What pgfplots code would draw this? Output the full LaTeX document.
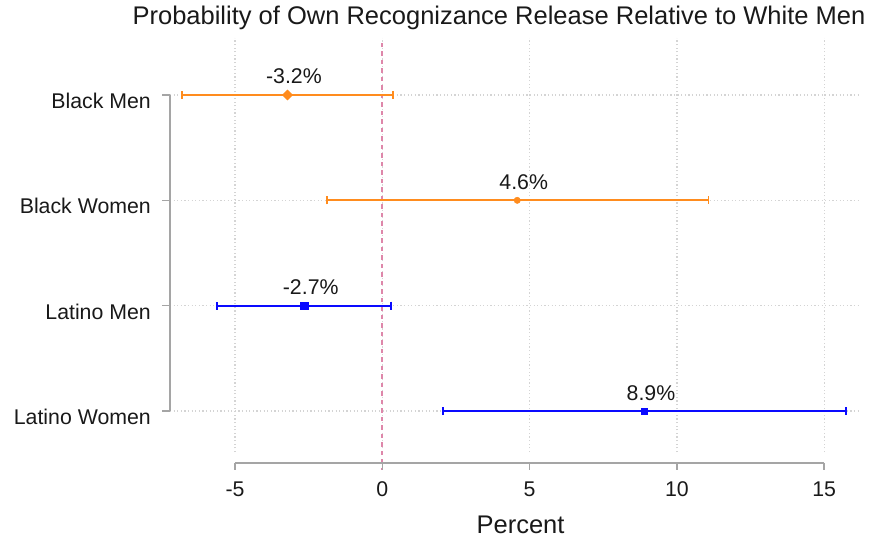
\documentclass[border=0pt]{standalone}
\usepackage{fontspec}
\setmainfont{Liberation Sans}
\usepackage{pgfplots}
\pgfplotsset{compat=1.18}
\definecolor{sorange}{RGB}{255,140,30}
\definecolor{sblue}{RGB}{10,10,255}
\definecolor{zeroline}{RGB}{222,135,170}
\definecolor{gridc}{RGB}{212,212,212}
\definecolor{spine}{RGB}{165,165,165}
\definecolor{txt}{RGB}{25,25,25}
\newcommand{\tickfont}{\fontsize{21.3bp}{25bp}\selectfont}
\newcommand{\bigfont}{\fontsize{25.5bp}{30bp}\selectfont}
\pgfplotsset{
  errstyle/.style={
    error bars/error bar style={line width=1.8bp, #1},
    error bars/error mark options={line width=1.8bp, #1, mark size=4bp, rotate=90}},
}
\begin{document}
\begin{tikzpicture}
\begin{axis}[
  name=ax,
  scale only axis,
  width=690bp, height=414bp,
  xmin=-7.206, xmax=16.215,
  ymin=0.611, ymax=4.541,
  clip=false,
  axis line style={draw=none},
  major tick length=0pt,
  xtick={-5,0,5,10,15},
  ytick={1,2,3,4},
  yticklabels={Latino Women,Latino Men,Black Women,Black Men},
  xmajorgrids, ymajorgrids,
  major grid style={gridc, line width=1.2bp, dash pattern=on 1.2bp off 2.4bp},
  /pgf/number format/assume math mode=true,
  ticklabel style={font=\tickfont, text=txt, inner sep=0pt},
  xticklabel style={anchor=base, yshift=-44.7bp},
  yticklabel style={anchor=base east, xshift=-19bp, yshift=-13.5bp},
  title={Probability of Own Recognizance Release Relative to White Men},
  title style={at={(axis description cs:0.4768,1.0193)}, anchor=base, font=\bigfont, text=txt, inner sep=0pt},
  xlabel={Percent},
  xlabel style={at={(axis description cs:0.508,-0.1964)}, anchor=base, font=\bigfont, text=txt, inner sep=0pt},
  nodes near coords,
  point meta=explicit symbolic,
  every node near coord/.append style={anchor=base, inner sep=0pt, xshift=6.5bp, yshift=11bp, font=\tickfont, text=txt},
  error bars/x dir=both,
  error bars/x explicit,
]
% zero reference line
\draw[zeroline, line width=1.8bp, dash pattern=on 4.5bp off 4bp] (axis cs:0,4.494) -- (axis cs:0,0.440);
% range-frame axes
\draw[spine, line width=1.5bp] (axis cs:-5,0.5066) -- (axis cs:15,0.5066);
\draw[spine, line width=1.5bp] (axis cs:-5,0.5066) -- (axis cs:-5,0.4354);
\draw[spine, line width=1.5bp] (axis cs:0,0.5066) -- (axis cs:0,0.4354);
\draw[spine, line width=1.5bp] (axis cs:5,0.5066) -- (axis cs:5,0.4354);
\draw[spine, line width=1.5bp] (axis cs:10,0.5066) -- (axis cs:10,0.4354);
\draw[spine, line width=1.5bp] (axis cs:15,0.5066) -- (axis cs:15,0.4354);
\draw[spine, line width=1.5bp] (axis cs:-7.206,1) -- (axis cs:-7.206,4);
\draw[spine, line width=1.5bp] (axis cs:-7.206,1) -- (axis cs:-7.478,1);
\draw[spine, line width=1.5bp] (axis cs:-7.206,2) -- (axis cs:-7.478,2);
\draw[spine, line width=1.5bp] (axis cs:-7.206,3) -- (axis cs:-7.478,3);
\draw[spine, line width=1.5bp] (axis cs:-7.206,4) -- (axis cs:-7.478,4);
% Black Men
\addplot[only marks, sorange, mark=square*, mark size=3.6bp, mark options={rotate=45}, errstyle=sorange]
  table[x=x, y=y, x error minus=em, x error plus=ep, meta=lab, row sep=\\] {
  x y em ep lab \\
  -3.22 4 3.57 3.57 -3.2\% \\
};
% Black Women
\addplot[only marks, sorange, mark=*, mark size=3.2bp, errstyle=sorange]
  table[x=x, y=y, x error minus=em, x error plus=ep, meta=lab, row sep=\\] {
  x y em ep lab \\
  4.58 3 6.46 6.49 4.6\% \\
};
% Latino Men
\addplot[only marks, sblue, mark=square*, mark size=3.8bp, errstyle=sblue]
  table[x=x, y=y, x error minus=em, x error plus=ep, meta=lab, row sep=\\] {
  x y em ep lab \\
  -2.65 2 2.97 2.95 -2.7\% \\
};
% Latino Women
\addplot[only marks, sblue, mark=square*, mark size=3bp, errstyle=sblue]
  table[x=x, y=y, x error minus=em, x error plus=ep, meta=lab, row sep=\\] {
  x y em ep lab \\
  8.90 1 6.84 6.84 8.9\% \\
};
\end{axis}
\pgfresetboundingbox
\path[use as bounding box] ([shift={(-170bp,-85bp)}]ax.south west) rectangle ([shift={(705bp,452bp)}]ax.south west);
\end{tikzpicture}
\end{document}
